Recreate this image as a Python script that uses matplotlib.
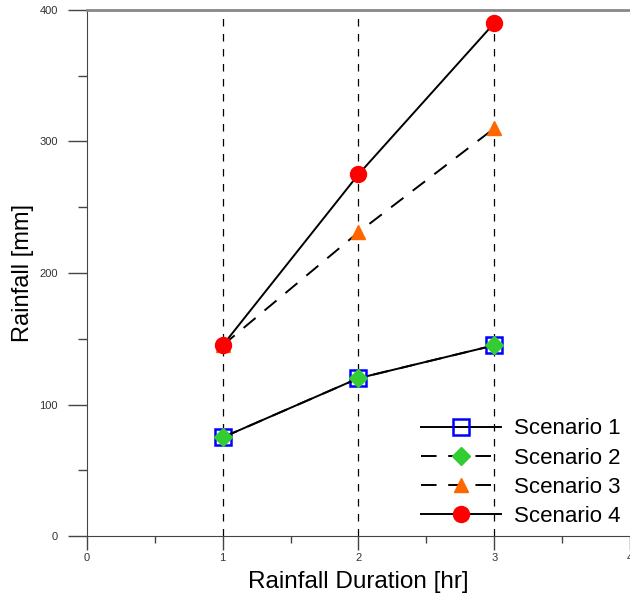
import matplotlib
matplotlib.use("Agg")
import matplotlib.pyplot as plt
from matplotlib.ticker import MultipleLocator

plt.rcParams['font.family'] = ['Liberation Sans', 'DejaVu Sans']

# data
duration = [1, 2, 3]
scenario1 = [75, 120, 145]
scenario2 = [75, 120, 145]
scenario3 = [145, 231, 310]
scenario4 = [145, 275, 390]
labels = ["Scenario 1", "Scenario 2", "Scenario 3", "Scenario 4"]

fig = plt.figure(figsize=(6.3, 6.05), dpi=100)
ax = fig.add_axes([0.138, 0.114, 0.862, 0.8695])

# vertical dashed guide lines
for d in duration:
    ax.plot([d, d], [0, 400], color="black", ls=(0, (6, 6)), lw=0.9, zorder=1)

ax.plot(duration, scenario1, color="black", lw=1.4, marker="s", ms=12,
        mfc="none", mec="#0000ff", mew=1.8, label=labels[0], zorder=3)
ax.plot(duration, scenario2, color="black", lw=1.4, ls=(0, (8, 6)), marker="D", ms=9.5,
        mfc="#33cc33", mec="#33cc33", label=labels[1], zorder=4)
ax.plot(duration, scenario3, color="black", lw=1.4, ls=(0, (8, 6)), marker="^", ms=9.5,
        mfc="#ff6600", mec="#ff6600", label=labels[2], zorder=3)
ax.plot(duration, scenario4, color="black", lw=1.4, marker="o", ms=11.5,
        mfc="#ff0000", mec="#ff0000", label=labels[3], zorder=3)

ax.set_xlim(0, 4)
ax.set_ylim(0, 400)
ax.xaxis.set_major_locator(MultipleLocator(1))
ax.xaxis.set_minor_locator(MultipleLocator(0.5))
ax.yaxis.set_major_locator(MultipleLocator(100))
ax.yaxis.set_minor_locator(MultipleLocator(50))
ax.tick_params(which="major", direction="out", length=14, width=1, colors="#444444",
               labelsize=8, labelcolor="#333333", pad=7)
ax.tick_params(axis="x", which="major", length=10, pad=2)
ax.tick_params(which="minor", direction="out", length=6.5, width=1, colors="#444444")
ax.tick_params(axis="x", which="minor", length=5)

ax.spines["right"].set_visible(False)
ax.spines["left"].set_color("#444444")
ax.spines["bottom"].set_color("#444444")
ax.spines["top"].set_color("#888888")
ax.spines["top"].set_linewidth(2)

ax.set_xlabel("Rainfall Duration [hr]", fontsize=17.5, labelpad=6)
ax.set_ylabel("Rainfall [mm]", fontsize=17, labelpad=4)

leg = ax.legend(loc="lower right", bbox_to_anchor=(1.0, 0.0), frameon=False,
                fontsize=16, handlelength=3.6, handletextpad=0.6, labelspacing=0.37,
                borderaxespad=0.0)

fig.savefig("out.png", dpi=100)
